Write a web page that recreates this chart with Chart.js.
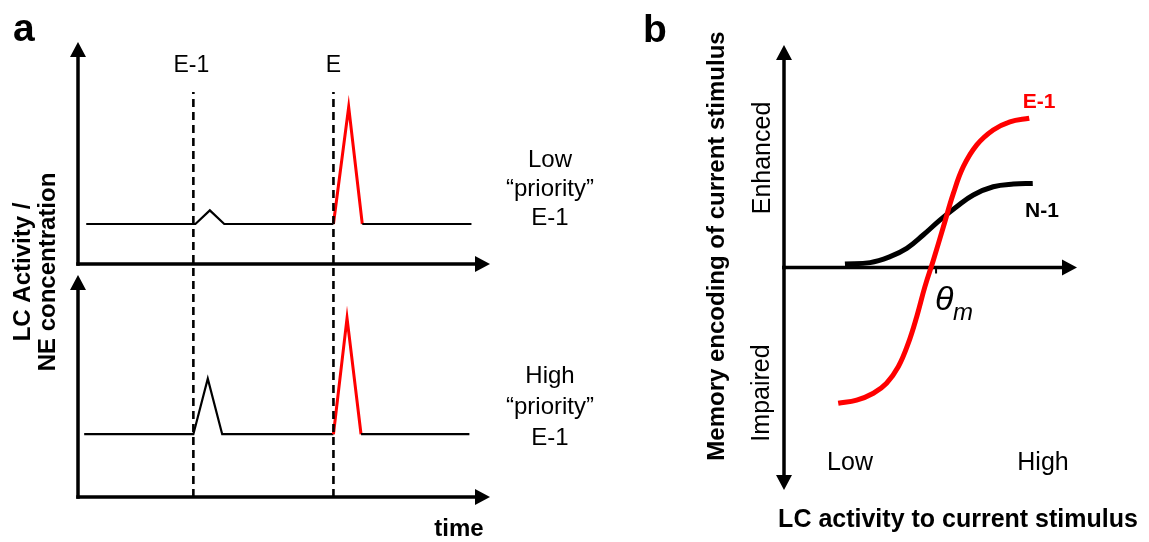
<!DOCTYPE html>
<html>
<head>
<meta charset="utf-8">
<script src="https://cdn.jsdelivr.net/npm/chart.js@4.4.1/dist/chart.umd.min.js"></script>
<style>
  html, body { margin: 0; padding: 0; background: #fff; }
  #wrap { position: relative; width: 1149px; height: 542px; }
  canvas { position: absolute; top: 0; }
  #panelA { left: 0; }
  #panelB { left: 600px; }
</style>
</head>
<body>
<div id="wrap">
  <canvas id="panelA" width="600" height="542"></canvas>
  <canvas id="panelB" width="549" height="542"></canvas>
</div>
<script>
// ---- panel a : LC activity / NE over time ----
const eventNames = ['E-1', 'E'];
const eventTimes = [2.8, 6.2];
const eventLineTop = 8.9;

const topTime = [0.2, 2.85, 3.2, 3.55, 6.2, 6.57, 6.9, 9.55];
const topLevel = [6.0, 6.0, 6.3, 6.0, 6.0, 8.57, 6.0, 6.0];
const bottomTime = [0.15, 2.8, 3.15, 3.5, 6.2, 6.53, 6.87, 9.5];
const bottomLevel = [1.38, 1.38, 2.6, 1.38, 1.38, 3.93, 1.38, 1.38];
const spikeFrom = 4, spikeTo = 6; // red part of the trace (point indices)

const topAxisY = 5.12;      // where the upper plot's time axis sits
const bottomAxisTop = 4.88; // arrow tip of the lower plot's y axis

const lowLabel = ['Low', '\u201cpriority\u201d', 'E-1'];
const highLabel = ['High', '\u201cpriority\u201d', 'E-1'];

// ---- panel b : memory encoding vs LC activity ----
const e1Activity = [1.85, 2.48, 3.05, 3.5, 3.9, 4.24, 4.53, 4.81, 5.1, 5.44, 5.78, 6.12, 6.58, 7.14, 7.71, 8.37];
const e1Memory = [-6.1, -5.96, -5.65, -5.2, -4.46, -3.41, -2.21, -0.86, 0.34, 1.83, 3.33, 4.53, 5.51, 6.18, 6.55, 6.71];
const n1Activity = [2.08, 2.94, 3.62, 4.19, 4.75, 5.32, 5.89, 6.46, 7.14, 7.83, 8.49];
const n1Memory = [0.16, 0.22, 0.49, 0.86, 1.46, 2.13, 2.73, 3.26, 3.63, 3.75, 3.78];
const thetaM = 5.19;

const RED = '#ff0000';
const FONT = '"Liberation Sans", Arial, sans-serif';

function pts(xs, ys) {
  return xs.map((x, i) => ({ x: x, y: ys[i] }));
}

function arrowLine(ctx, x1, y1, x2, y2, w) {
  const ang = Math.atan2(y2 - y1, x2 - x1);
  const head = 15, half = 8;
  ctx.save();
  ctx.strokeStyle = '#000';
  ctx.fillStyle = '#000';
  ctx.lineWidth = w;
  ctx.lineCap = 'square';
  ctx.beginPath();
  ctx.moveTo(x1, y1);
  ctx.lineTo(x2 - Math.cos(ang) * head, y2 - Math.sin(ang) * head);
  ctx.stroke();
  ctx.translate(x2, y2);
  ctx.rotate(ang);
  ctx.beginPath();
  ctx.moveTo(0, 0);
  ctx.lineTo(-head, -half);
  ctx.lineTo(-head, half);
  ctx.closePath();
  ctx.fill();
  ctx.restore();
}

function text(ctx, str, x, y, font, align, color, rotate) {
  ctx.save();
  ctx.font = font + ' ' + FONT;
  ctx.fillStyle = color || '#000';
  ctx.textAlign = align || 'center';
  ctx.textBaseline = 'alphabetic';
  ctx.translate(x, y);
  if (rotate) ctx.rotate(-Math.PI / 2);
  ctx.fillText(str, 0, 0);
  ctx.restore();
}

const baseOptions = (xMin, xMax, yMin, yMax, pad) => ({
  responsive: false,
  animation: false,
  events: [],
  layout: { padding: pad },
  plugins: { legend: { display: false }, tooltip: { enabled: false } },
  elements: { point: { radius: 0 } },
  scales: {
    x: { type: 'linear', min: xMin, max: xMax, display: false },
    y: { type: 'linear', min: yMin, max: yMax, display: false }
  }
});

// panel a chart
const spikeColor = ctx => (ctx.p0DataIndex >= spikeFrom && ctx.p0DataIndex < spikeTo) ? RED : '#000';
const spikeWidth = ctx => (ctx.p0DataIndex >= spikeFrom && ctx.p0DataIndex < spikeTo) ? 3 : 2.2;

const panelAPlugin = {
  id: 'panelA',
  beforeDatasetsDraw(chart) {
    const ctx = chart.ctx, xs = chart.scales.x, ys = chart.scales.y;
    const x0 = xs.getPixelForValue(0);
    // upper plot axes
    const yt = ys.getPixelForValue(topAxisY);
    arrowLine(ctx, x0, yt, xs.getPixelForValue(10), yt, 3.5);
    arrowLine(ctx, x0, yt, x0, ys.getPixelForValue(10), 3.5);
    // lower plot axes
    const yb = ys.getPixelForValue(0);
    arrowLine(ctx, x0, yb, xs.getPixelForValue(10), yb, 3.5);
    arrowLine(ctx, x0, yb, x0, ys.getPixelForValue(bottomAxisTop), 3.5);
  },
  afterDraw(chart) {
    const ctx = chart.ctx, xs = chart.scales.x;
    text(ctx, 'a', 13, 41, 'bold 39px', 'left');
    eventNames.forEach((n, i) => text(ctx, n, xs.getPixelForValue(eventTimes[i]) - (i === 0 ? 2 : 0), 72, '23px'));
    const lowBase = [167, 196, 225], highBase = [383, 414, 445];
    lowLabel.forEach((s, i) => text(ctx, s, 550, lowBase[i], '24px'));
    highLabel.forEach((s, i) => text(ctx, s, 550, highBase[i], '24px'));
    text(ctx, 'time', 459, 536, 'bold 24px');
    text(ctx, 'LC Activity /', 30, 272, 'bold 24px', 'center', '#000', true);
    text(ctx, 'NE concentration', 55, 272, 'bold 24px', 'center', '#000', true);
  }
};

new Chart(document.getElementById('panelA'), {
  type: 'line',
  data: {
    datasets: [
      ...eventTimes.map(t => ({
        data: [{ x: t, y: 0 }, { x: t, y: eventLineTop }],
        borderColor: '#000',
        borderWidth: 2.6,
        borderDash: [8, 5]
      })),
      {
        data: pts(topTime, topLevel),
        borderColor: '#000',
        borderWidth: 2.2,
        segment: { borderColor: spikeColor, borderWidth: spikeWidth }
      },
      {
        data: pts(bottomTime, bottomLevel),
        borderColor: '#000',
        borderWidth: 2.2,
        segment: { borderColor: spikeColor, borderWidth: spikeWidth }
      }
    ]
  },
  options: baseOptions(0, 10, 0, 10, { left: 78, right: 110, top: 42, bottom: 45 }),
  plugins: [panelAPlugin]
});

// panel b chart
const panelBPlugin = {
  id: 'panelB',
  beforeDatasetsDraw(chart) {
    const ctx = chart.ctx, xs = chart.scales.x, ys = chart.scales.y;
    const x0 = xs.getPixelForValue(0), y0 = ys.getPixelForValue(0);
    arrowLine(ctx, x0, y0, xs.getPixelForValue(10), y0, 3.5);
    arrowLine(ctx, x0, y0, x0, ys.getPixelForValue(10), 3.5);
    arrowLine(ctx, x0, y0, x0, ys.getPixelForValue(-10), 3.5);
    // theta_m tick
    const xt = xs.getPixelForValue(thetaM);
    ctx.save();
    ctx.strokeStyle = '#000';
    ctx.lineWidth = 2;
    ctx.beginPath();
    ctx.moveTo(xt, y0);
    ctx.lineTo(xt, y0 + 6);
    ctx.stroke();
    ctx.restore();
  },
  afterDraw(chart) {
    const ctx = chart.ctx;
    text(ctx, 'b', 43, 42, 'bold 39px', 'left');
    text(ctx, 'E-1', 439, 108, 'bold 21px', 'center', RED);
    text(ctx, 'N-1', 442, 217, 'bold 21px');
    text(ctx, 'Enhanced', 170, 158, '25px', 'center', '#000', true);
    text(ctx, 'Impaired', 169, 393, '25px', 'center', '#000', true);
    text(ctx, 'Low', 250, 470, '25px');
    text(ctx, 'High', 443, 470, '25px');
    text(ctx, '\u03b8', 335, 310, 'italic 34px', 'left');
    text(ctx, 'm', 353, 320, 'italic 24px', 'left');
    text(ctx, 'Memory encoding of current stimulus', 124, 246, 'bold 24px', 'center', '#000', true);
    text(ctx, 'LC activity to current stimulus', 358, 527, 'bold 25px');
  }
};

new Chart(document.getElementById('panelB'), {
  type: 'line',
  data: {
    datasets: [
      {
        label: 'E-1',
        data: pts(e1Activity, e1Memory),
        borderColor: RED,
        borderWidth: 5,
        tension: 0.4
      },
      {
        label: 'N-1',
        data: pts(n1Activity, n1Memory),
        borderColor: '#000',
        borderWidth: 5,
        tension: 0.4
      }
    ]
  },
  options: baseOptions(0, 10, -10, 10, { left: 184, right: 72, top: 45, bottom: 52 }),
  plugins: [panelBPlugin]
});
</script>
</body>
</html>
